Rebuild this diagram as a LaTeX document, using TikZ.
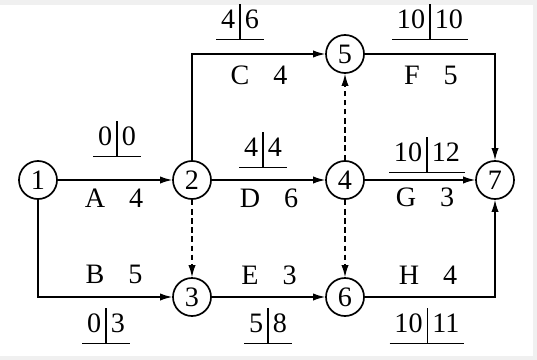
\documentclass[tikz,border=0pt]{standalone}
\usepackage{fontspec}
\setmainfont{Liberation Serif}
\usetikzlibrary{arrows.meta,positioning}
\setlength{\tabcolsep}{3.5pt}
\setlength{\arrayrulewidth}{1pt}
\renewcommand{\arraystretch}{1.15}
\tikzset{
  event/.style={circle,draw,line width=1.2pt,minimum size=0.95cm,inner sep=0pt,fill=white},
  arrow/.style={-{Latex[length=3mm,width=1.8mm]},line width=0.9pt},
  dummy/.style={arrow,dash pattern=on 4pt off 2.5pt},
  timepair/.style={inner sep=0pt},
  actlabel/.style={inner sep=0pt}
}
\newcommand{\TimePair}[2]{\begin{tabular}{r|l}#1&#2\\\hline\end{tabular}}
\newcommand{\Act}[2]{#1\hspace{0.85em}#2}

\begin{document}
\begin{tikzpicture}[x=0.025cm,y=-0.025cm,font=\fontsize{20}{22}\selectfont]
  % frame
  \fill[black!6] (0,0) rectangle (537,360);
  \fill[white] (0,5) rectangle (533,356);
  \useasboundingbox (0,0) rectangle (537,360);
  % events
  \node[event] (n1) at (38,180) {1};
  \node[event] (n2) at (192,180) {2};
  \node[event] (n3) at (192,297) {3};
  \node[event] (n4) at (345,180) {4};
  \node[event] (n5) at (345,54) {5};
  \node[event] (n6) at (345,297) {6};
  \node[event] (n7) at (495,180) {7};
  % activities
  \draw[arrow] (n1) -- (n2);
  \draw[arrow] (n1) |- (n3);
  \draw[arrow] (n2) |- (n5);
  \draw[arrow] (n2) -- (n4);
  \draw[arrow] (n3) -- (n6);
  \draw[arrow] (n5) -| (n7);
  \draw[arrow] (n4) -- (n7);
  \draw[arrow] (n6) -| (n7);
  % dummies
  \draw[dummy] (n2) -- (n3);
  \draw[dummy] (n4) -- (n5);
  \draw[dummy] (n4) -- (n6);
  % names and durations
  \node[actlabel] (lA) at (114,198) {\Act{A}{4}};
  \node[actlabel] (lB) at (114,274) {\Act{B}{5}};
  \node[actlabel] (lC) at (259,75) {\Act{C}{4}};
  \node[actlabel] (lD) at (269,198) {\Act{D}{6}};
  \node[actlabel] (lE) at (269,275) {\Act{E}{3}};
  \node[actlabel] (lF) at (431,75) {\Act{F}{5}};
  \node[actlabel] (lG) at (425,197) {\Act{G}{3}};
  \node[actlabel] (lH) at (428,275) {\Act{H}{4}};
  % start times
  \node[timepair] (tA) at (117,139) {\TimePair{0}{0}};
  \node[timepair] (tB) at (106,326) {\TimePair{0}{3}};
  \node[timepair] (tC) at (240,22) {\TimePair{4}{6}};
  \node[timepair] (tD) at (263,150) {\TimePair{4}{4}};
  \node[timepair] (tE) at (268,326) {\TimePair{5}{8}};
  \node[timepair] (tF) at (430,22) {\TimePair{10}{10}};
  \node[timepair] (tG) at (427,155) {\TimePair{10}{12}};
  \node[timepair] (tH) at (427,326) {\TimePair{10}{11}};
\end{tikzpicture}
\end{document}
